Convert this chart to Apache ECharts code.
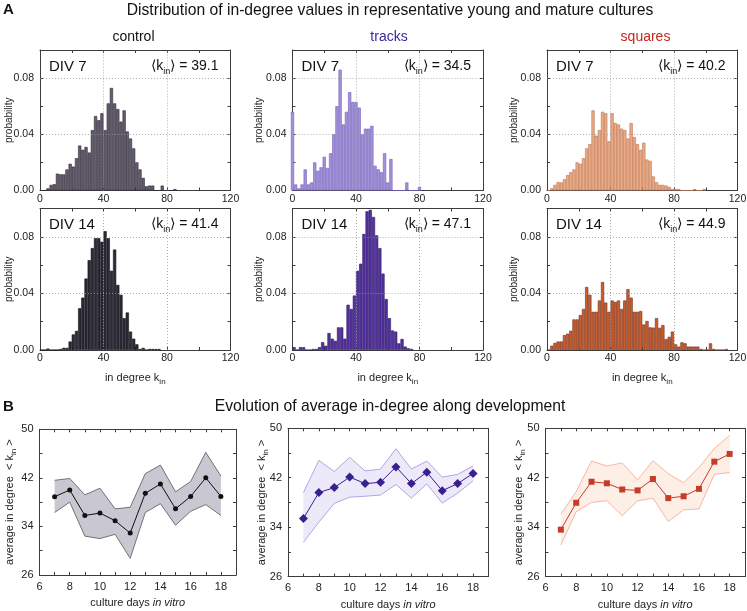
<!DOCTYPE html>
<html><head><meta charset="utf-8">
<script src="https://cdn.jsdelivr.net/npm/echarts@6/dist/echarts.min.js"></script>
<style>html,body{margin:0;padding:0;background:#fff}#c{width:747px;height:611px}</style>
</head><body><div id="c"></div>
<script>
// ---------- DATA ----------
const binWidth = 2;
// probability per bin, bins start at binStart and are binWidth wide
const controlDiv7 = [0,0,0.0015,0.004,0.0045,0.012,0.0115,0.0115,0.015,0.019,0.017,0.023,0.032,0.029,0.031,0.027,0.043,0.053,0.050,0.055,0.043,0.062,0.073,0.062,0.058,0.049,0.057,0.042,0.037,0.030,0.020,0.015,0.009,0.003,0.0035,0.0035,0,0,0.0035,0,0,0,0.001];
const controlDiv14 = [0,0,0.001,0,0,0,0.0007,0.0015,0.0015,0.006,0.011,0.0135,0.0295,0.037,0.0505,0.0635,0.072,0.079,0.079,0.0765,0.084,0.079,0.056,0.071,0.046,0.039,0.0225,0.0265,0.013,0.008,0.004,0.0007,0.0015,0,0.0007,0.0007,0.0007,0.0007];
const tracksDiv7 = [0.056,0.0043,0.0015,0.0043,0.015,0.0043,0.0057,0.020,0.014,0.0165,0.024,0.016,0.0265,0.040,0.060,0.086,0.047,0.056,0.070,0.063,0.063,0.059,0.040,0.044,0.044,0.046,0.0176,0.015,0.013,0.0265,0.0057,0.0224,0,0,0,0,0.0057,0,0,0,0.0026];
const tracksDiv14 = [0.002,0,0.002,0.002,0,0,0.0007,0.0007,0.002,0.0055,0.003,0.012,0.008,0.0065,0.016,0.016,0.008,0.032,0.029,0.0385,0.056,0.061,0.082,0.098,0.099,0.094,0.081,0.072,0.054,0.036,0.0225,0.0138,0.013,0.0047,0.0078,0.0024,0.0012,0.0007];
const squaresDiv7 = [0,0.0015,0.004,0.006,0.0057,0.008,0.011,0.013,0.015,0.020,0.019,0.023,0.030,0.033,0.057,0.039,0.043,0.056,0.055,0.035,0.055,0.048,0.047,0.044,0.043,0.037,0.048,0.038,0.033,0.029,0.034,0.022,0.021,0.010,0.006,0.004,0.004,0.0035,0.0025,0.001,0.001,0.001,0,0,0,0,0.001,0,0,0.001];
const squaresDiv14 = [0,0.003,0.005,0.006,0.006,0.0105,0.0115,0.0136,0.0216,0.0216,0.0247,0.029,0.0445,0.039,0.027,0.027,0.035,0.048,0.0335,0.027,0.035,0.034,0.035,0.029,0.035,0.043,0.037,0.027,0.027,0.0275,0.018,0.0205,0.016,0.0158,0.0225,0.0157,0.0176,0.0077,0.0093,0.013,0.004,0.0024,0.0054,0.0047,0.0024,0.0024,0.0024,0.0024,0.0007,0,0,0.0047,0.0007,0,0,0,0.0007];
const binStartDiv7 = [0, -1, 0];   // control, tracks, squares
const binStartDiv14 = [0, 0, 0];
const meanKinDiv7 = ['39.1', '34.5', '40.2'];
const meanKinDiv14 = ['41.4', '47.1', '44.9'];
const cultureNames = ['control', 'tracks', 'squares'];

const days = [7,8,9,10,11,12,13,14,15,16,17,18];
const controlMean  = [38.9,40.0,35.8,36.2,34.95,32.9,39.45,41.0,36.9,38.95,42.0,38.95];
const controlUpper = [41.6,41.9,39.2,40.3,36.9,37.15,42.7,44.1,39.7,41.4,46.2,42.3];
const controlLower = [36.3,38.0,32.4,32.0,32.7,28.75,36.3,37.75,34.2,36.5,37.6,35.8];
const tracksMean  = [35.4,39.6,40.4,42.1,41.05,41.26,43.75,41.05,42.9,39.9,41.05,42.7];
const tracksUpper = [39.6,44.8,43.0,45.3,43.1,43.4,46.7,43.4,44.7,42.1,42.55,43.9];
const tracksLower = [31.55,34.8,37.85,38.85,39.0,39.2,40.9,38.7,41.0,37.9,39.5,41.5];
const squaresMean  = [33.6,37.95,41.35,41.1,40.1,39.95,41.8,38.7,39.0,40.2,44.6,45.85];
const squaresUpper = [36.1,39.75,44.7,43.9,44.4,41.65,44.75,42.65,41.2,43.65,46.75,48.85];
const squaresLower = [31.1,36.5,38.0,38.3,35.85,38.25,38.7,34.9,36.8,36.95,42.55,42.85];

const kTicks = [0,20,40,60,80,100,120];
const kLabels = [0,40,80,120];
const probTicks = [0,0.02,0.04,0.06,0.08,0.1];
const probLabels = [0,0.04,0.08];
const dayTicks = [6,7,8,9,10,11,12,13,14,15,16,17,18,19];
const dayLabels = [6,8,10,12,14,16,18];
const avgTicks = [26,30,34,38,42,46,50];
const avgLabels = [26,34,42,50];

// ---------- STYLE / LAYOUT ----------
const FONT = 'Liberation Sans, Arial, Helvetica, sans-serif';
const AX = '#3c3c3c';
const histLeft = [40, 292.5, 547], histWidth = 190.5;
const histTop = [50, 208.5], histHeight = [140.5, 141.5];
const histNameGap = [25.5, 28, 27.5];
const histFill = [['#635d6e','#2c2a36'],['#a292da','#55319f'],['#eeaa82','#cd5c2c']];
const histEdge = [['#2e2a36','#111018'],['#7460b8','#2c1868'],['#b77456','#6a3322']];
const titleColors = ['#111','#3b2a9a','#c0281e'];
const lineLeft = [39.5, 288, 545.5], lineWidth = [196.5, 200.5, 199.5];
const lineTop = [429.3, 428.3, 428.3], lineHeightArr = [145.7, 148.3, 148.3];
const lineNameGap = [22, 18.5, 19];
const lineColor = ['#111111','#3a1f8f','#c63c28'];
const bandFill = ['#c9c7d1','#ece9f9','#fdeee6'];
const bandEdge = ['#555555','#9d93dc','#f2a88a'];
const markerShape = ['circle','diamond','rect'];
const markerSize = [5,9,6];

const grids = [], xAxes = [], yAxes = [], series = [], graphics = [];
const subRich = {s:{fontSize:8, verticalAlign:'bottom', fontFamily:FONT, color:'#222'}};

function addAxes(gi, xmin, xmax, xt, xl, ymin, ymax, yt, yl, yfmt, xName, yName, yNameGap, xMargin, yMargin, lblSize, yNameSize) {
  const line = {show:true, onZero:false, lineStyle:{color:AX, width:1}};
  const tickX = {show:true, inside:true, length:3, customValues:xt, lineStyle:{color:AX}};
  const tickY = {show:true, inside:true, length:3, customValues:yt, lineStyle:{color:AX}};
  xAxes.push({type:'value', gridIndex:gi, position:'bottom', min:xmin, max:xmax,
    axisLine:line, axisTick:tickX, splitLine:{show:false},
    axisLabel:{show:true, customValues:xl, fontSize:lblSize, color:'#222', fontFamily:FONT, margin:xMargin},
    name:xName || '', nameLocation:'middle', nameGap:20, nameMoveOverlap:false,
    nameTextStyle:{fontSize:11, color:'#222', fontFamily:FONT, lineHeight:16,
      rich:{s:{fontSize:8, verticalAlign:'bottom', fontFamily:FONT, color:'#222'}, i:{fontSize:11, fontStyle:'italic', fontFamily:FONT, color:'#222'}}}});
  xAxes.push({type:'value', gridIndex:gi, position:'top', min:xmin, max:xmax,
    axisLine:line, axisTick:tickX, splitLine:{show:false}, axisLabel:{show:false}});
  yAxes.push({type:'value', gridIndex:gi, position:'left', min:ymin, max:ymax,
    axisLine:line, axisTick:tickY, splitLine:{show:false},
    axisLabel:{show:true, customValues:yl, fontSize:lblSize, color:'#222', fontFamily:FONT, margin:yMargin, formatter:yfmt},
    name:yName, nameLocation:'middle', nameRotate:90, nameGap:yNameGap, nameMoveOverlap:false,
    nameTextStyle:{fontSize:yNameSize, color:'#222', fontFamily:FONT, lineHeight:16, rich:subRich}});
  yAxes.push({type:'value', gridIndex:gi, position:'right', min:ymin, max:ymax,
    axisLine:line, axisTick:tickY, splitLine:{show:false}, axisLabel:{show:false}});
}

function txt(text, x, y, o) {
  graphics.push({type:'text', x:x, y:y, silent:true, style:Object.assign({
    text:text, fontFamily:FONT, fontSize:14, fill:'#111', align:'center', verticalAlign:'middle'}, o||{})});
}

const histData = [[controlDiv7, controlDiv14],[tracksDiv7, tracksDiv14],[squaresDiv7, squaresDiv14]];
const histStart = [binStartDiv7, binStartDiv14];
const meanKin = [meanKinDiv7, meanKinDiv14];
const divLabel = ['DIV 7', 'DIV 14'];

let gi = 0;
for (let row = 0; row < 2; row++) {
  for (let col = 0; col < 3; col++) {
    grids.push({left:histLeft[col], top:histTop[row], width:histWidth, height:histHeight[row], outerBoundsMode:'none', containLabel:false});
    addAxes(gi, 0, 120, kTicks, kLabels, 0, 0.1, probTicks, probLabels, v => v.toFixed(2),
      row === 1 ? 'in degree k{s|in}' : '', 'probability', histNameGap[col] - 3, 3, 6, 10.5, 10);
    const arr = histData[col][row], start = histStart[row][col];
    series.push({type:'bar', xAxisIndex:2*gi, yAxisIndex:2*gi, barWidth:'100%', clip:true,
      data: arr.map((v, j) => [start + j*binWidth + binWidth/2, v]),
      itemStyle:{color:histFill[col][row], borderColor:histEdge[col][row], borderWidth:0.6},
      markLine:{silent:true, symbol:'none', animation:false, label:{show:false},
        lineStyle:{type:[1,2], color:'#9a9a9a', width:0.8},
        data:[{xAxis:40},{xAxis:80},{yAxis:0.04},{yAxis:0.08}]}});
    const L = histLeft[col], T = histTop[row];
    txt(divLabel[row], L + 9, T + 16.5, {align:'left', fontSize:15});
    txt('\u27E8k{s|in}\u27E9 = ' + meanKin[row][col], L + histWidth - 12, T + 16, {align:'right', fontSize:14, lineHeight:20,
      rich:{s:{fontSize:9, verticalAlign:'bottom', fontFamily:FONT, fill:'#111'}}});
    gi++;
  }
}

const lineSets = [[controlMean, controlUpper, controlLower],[tracksMean, tracksUpper, tracksLower],[squaresMean, squaresUpper, squaresLower]];
for (let col = 0; col < 3; col++) {
  grids.push({left:lineLeft[col], top:lineTop[col], width:lineWidth[col], height:lineHeightArr[col], outerBoundsMode:'none', containLabel:false});
  addAxes(gi, 6, 19, dayTicks, dayLabels, 26, 50, avgTicks, avgLabels, null,
    'culture days {i|in vitro}', 'average in degree  < k{s|in} >', lineNameGap[col], 6, 6, 11, 11);
  const [m, up, lo] = lineSets[col];
  const xi = 2*gi, yi = 2*gi;
  const fill = bandFill[col];
  // shaded band between lower and upper, drawn through the axis scales
  series.push({type:'custom', xAxisIndex:xi, yAxisIndex:yi, silent:true,
    data: days.map((d,k) => [d, lo[k], up[k]]),
    encode:{x:0, y:[1,2]},
    renderItem: function (params, api) {
      if (params.dataIndex !== 0) return null;
      const pts = [];
      for (let k = 0; k < days.length; k++) pts.push(api.coord([days[k], up[k]]));
      for (let k = days.length - 1; k >= 0; k--) pts.push(api.coord([days[k], lo[k]]));
      return {type:'polygon', shape:{points:pts}, style:{fill:fill, stroke:null}};
    }});
  series.push({type:'line', xAxisIndex:xi, yAxisIndex:yi, symbol:'none', silent:true,
    lineStyle:{color:bandEdge[col], width:0.8}, data: days.map((d,k) => [d, lo[k]])});
  series.push({type:'line', xAxisIndex:xi, yAxisIndex:yi, symbol:'none', silent:true,
    lineStyle:{color:bandEdge[col], width:0.8}, data: days.map((d,k) => [d, up[k]])});
  series.push({type:'line', xAxisIndex:xi, yAxisIndex:yi, symbol:markerShape[col], symbolSize:markerSize[col],
    lineStyle:{color:lineColor[col], width:1}, itemStyle:{color:lineColor[col], borderWidth:0},
    data: days.map((d,k) => [d, m[k]])});
  gi++;
}

// titles
txt('A', 3, 10, {align:'left', fontSize:15, fontWeight:'bold'});
txt('Distribution of in-degree values in representative young and mature cultures', 390, 10.5, {fontSize:15.7});
const colTitleX = [133.5, 389, 645.5];
for (let c = 0; c < 3; c++) txt(cultureNames[c], colTitleX[c], 37, {fontSize:14, fill:titleColors[c]});
txt('B', 3, 407, {align:'left', fontSize:15, fontWeight:'bold'});
txt('Evolution of average in-degree along development', 390, 407, {fontSize:15.7});

const chart = echarts.init(document.getElementById('c'), null, {renderer:'canvas'});
chart.setOption({animation:false, backgroundColor:'#ffffff', grid:grids, xAxis:xAxes, yAxis:yAxes, series:series, graphic:graphics});
</script></body></html>
